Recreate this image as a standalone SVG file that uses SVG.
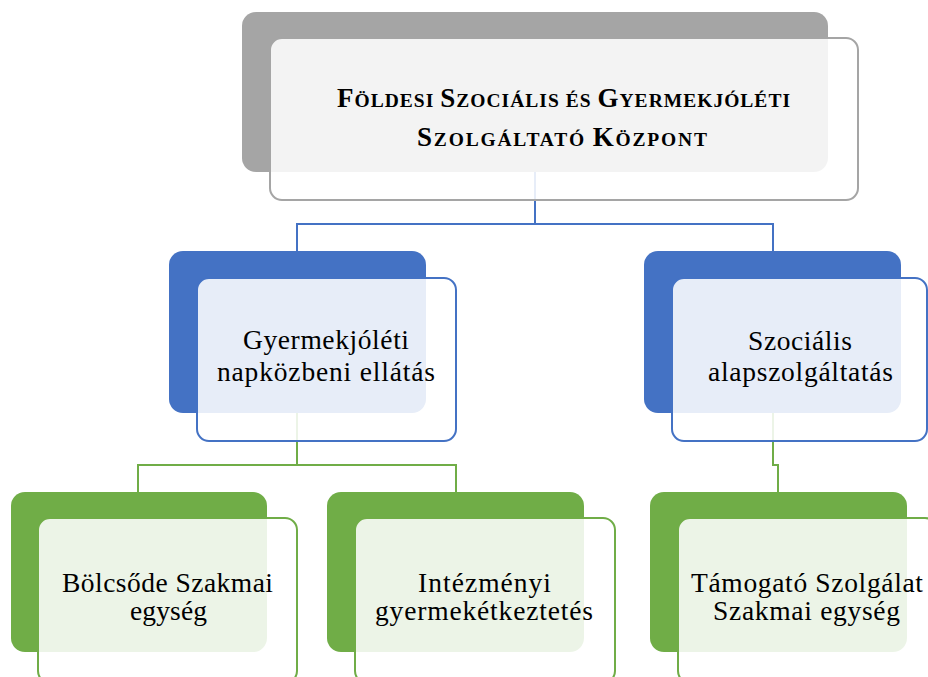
<svg xmlns="http://www.w3.org/2000/svg" width="928" height="677" viewBox="0 0 928 677">
<style>
.bg{fill:#fff}
.back-gray{fill:#a5a5a5}
.back-blue{fill:#4472c4}
.back-green{fill:#70ad47}
.front{fill:#fff;fill-opacity:0.87;stroke-width:2}
.f-gray{stroke:#a5a5a5}
.f-blue{stroke:#4472c4}
.f-green{stroke:#70ad47}
.conn{fill:none;stroke-width:2}
.c-blue{stroke:#4472c4}
.c-green{stroke:#70ad47}
.title{font-family:"Liberation Serif","Times New Roman",serif;font-weight:bold;fill:#000}
.cap{font-size:27px}
.sc{font-size:19.5px}
.lbl{font-family:"Liberation Serif","Times New Roman",serif;font-size:27.5px;fill:#000}
</style>
<rect class="bg" x="0" y="0" width="928" height="677"/>
<g id="connectors">
  <path class="conn c-blue" d="M535,172 V224 M297,224 H773 M297,223 V251 M773,223 V251"/>
  <path class="conn c-green" d="M297,413 V465 M138,465 H456 M138,464 V492 M456,464 V492"/>
  <path class="conn c-green" d="M773,413 V465 H778 V492"/>
</g>
<g id="node-top">
  <rect class="back-gray" x="242" y="12" width="586" height="160" rx="14"/>
  <rect class="front f-gray" x="270" y="38" width="588" height="162" rx="12"/>
  <text class="title" x="337" y="107" textLength="453" lengthAdjust="spacing"><tspan class="cap">F</tspan><tspan class="sc">ÖLDESI </tspan><tspan class="cap">S</tspan><tspan class="sc">ZOCIÁLIS ÉS </tspan><tspan class="cap">G</tspan><tspan class="sc">YERMEKJÓLÉTI</tspan></text>
  <text class="title" x="417" y="146" textLength="290" lengthAdjust="spacing"><tspan class="cap">S</tspan><tspan class="sc">ZOLGÁLTATÓ </tspan><tspan class="cap">K</tspan><tspan class="sc">ÖZPONT</tspan></text>
</g>
<g id="node-gyermekjoleti">
  <rect class="back-blue" x="169" y="251" width="257" height="162" rx="14"/>
  <rect class="front f-blue" x="197" y="278" width="259" height="163" rx="12"/>
  <text class="lbl" x="243" y="349" textLength="166" lengthAdjust="spacing">Gyermekjóléti</text>
  <text class="lbl" x="217" y="381" textLength="218" lengthAdjust="spacing">napközbeni ellátás</text>
</g>
<g id="node-szocialis">
  <rect class="back-blue" x="644" y="251" width="257" height="162" rx="14"/>
  <rect class="front f-blue" x="672" y="278" width="255" height="163" rx="12"/>
  <text class="lbl" x="748" y="350" textLength="104" lengthAdjust="spacing">Szociális</text>
  <text class="lbl" x="708" y="381" textLength="185" lengthAdjust="spacing">alapszolgáltatás</text>
</g>
<g id="node-bolcsode">
  <rect class="back-green" x="11" y="492" width="256" height="160" rx="14"/>
  <rect class="front f-green" x="38" y="518" width="259" height="165" rx="12"/>
  <text class="lbl" x="62" y="592" textLength="211" lengthAdjust="spacing">Bölcsőde Szakmai</text>
  <text class="lbl" x="130" y="620" textLength="77" lengthAdjust="spacing">egység</text>
</g>
<g id="node-intezmenyi">
  <rect class="back-green" x="327" y="492" width="257" height="160" rx="14"/>
  <rect class="front f-green" x="355" y="518" width="260" height="165" rx="12"/>
  <text class="lbl" x="418" y="592" textLength="133" lengthAdjust="spacing">Intézményi</text>
  <text class="lbl" x="375" y="620" textLength="218" lengthAdjust="spacing">gyermekétkeztetés</text>
</g>
<g id="node-tamogato">
  <rect class="back-green" x="650" y="492" width="257" height="160" rx="14"/>
  <rect class="front f-green" x="678" y="518" width="259" height="165" rx="12"/>
  <text class="lbl" x="691" y="592" textLength="232" lengthAdjust="spacing">Támogató Szolgálat</text>
  <text class="lbl" x="713" y="620" textLength="187" lengthAdjust="spacing">Szakmai egység</text>
</g>
</svg>
